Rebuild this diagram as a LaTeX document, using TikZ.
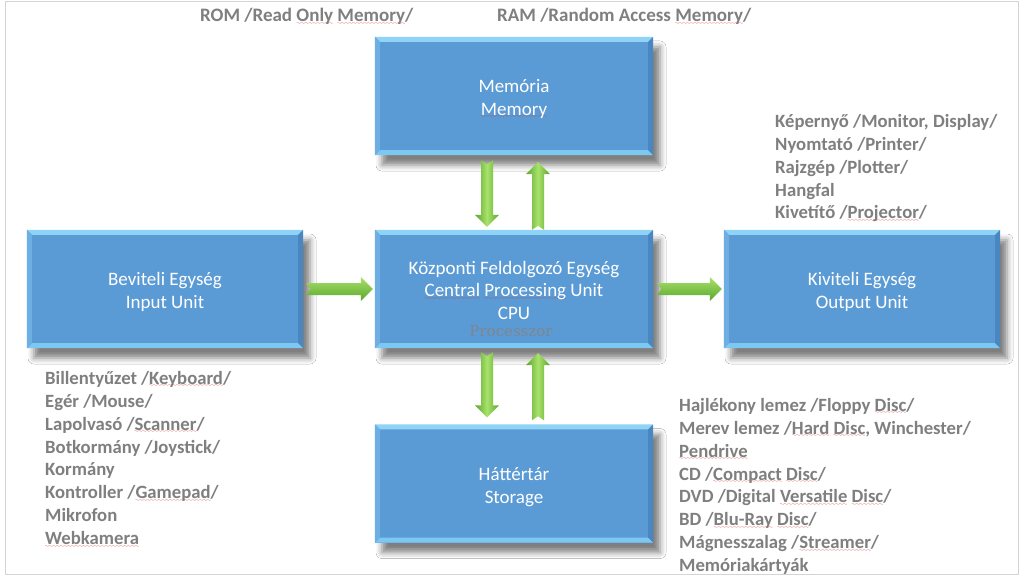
\documentclass[tikz,border=0pt]{standalone}
\usepackage{fontspec}
\setmainfont{Carlito}
\newfontfamily\procfont{DejaVu Serif}
\usetikzlibrary{shadows.blur,calc}
\definecolor{boxblue}{HTML}{5B9BD5}
\definecolor{bvtopc}{HTML}{8FD3F7}
\definecolor{bvbotc}{HTML}{7CC8F2}
\definecolor{bvleftc}{HTML}{6DAEE3}
\definecolor{bvrightc}{HTML}{4A86C0}
\definecolor{txtgray}{HTML}{7F7F7F}
\definecolor{procgray}{HTML}{7F858C}
\definecolor{sqred}{HTML}{D03030}
\definecolor{arlight}{HTML}{A8E26A}
\definecolor{ardark}{HTML}{5BA52E}
\definecolor{framegray}{HTML}{D4D4D4}
\font\sqwave=lasy6 at 4.5pt
\newcommand\sq[1]{\leavevmode\setbox0\hbox{#1}\rlap{\textcolor{sqred}{\lower2.6pt\hbox to\wd0{\xleaders\hbox{\sqwave\char58}\hfil}}}\box0\relax}
\newcommand\bevel[1]{%
  \fill[bvtopc] (#1.north west) -- (#1.north east) -- ([shift={(-5,5)}]#1.north east) -- ([shift={(5,5)}]#1.north west) -- cycle;
  \fill[bvbotc] (#1.south west) -- (#1.south east) -- ([shift={(-5,-5)}]#1.south east) -- ([shift={(5,-5)}]#1.south west) -- cycle;
  \fill[bvleftc] (#1.north west) -- ([shift={(5,5)}]#1.north west) -- ([shift={(5,-5)}]#1.south west) -- (#1.south west) -- cycle;
  \fill[bvrightc] (#1.north east) -- ([shift={(-5,5)}]#1.north east) -- ([shift={(-5,-5)}]#1.south east) -- (#1.south east) -- cycle;
}
\newcommand\fatarrow[3]{%
  \coordinate (hb) at ($(#3)!12pt!(#2)$);
  \path[#1] ($(#2)!6pt!90:(#3)$) -- ($(hb)!6pt!90:(#3)$) -- ($(hb)!12pt!90:(#3)$) -- (#3)
    -- ($(hb)!12pt!-90:(#3)$) -- ($(hb)!6pt!-90:(#3)$) -- ($(#2)!6pt!-90:(#3)$) -- ($(#2)!4pt!(#3)$) -- cycle;
}
\tikzset{
  box/.style={draw=none, fill=boxblue, minimum width=278, minimum height=118, inner sep=0pt,
    blur shadow={shadow xshift=7pt, shadow yshift=-10pt, shadow blur radius=6pt, shadow opacity=50}},
  boxtext/.style={inner sep=0pt, align=center, text=white, font=\fontsize{19}{22.5}\selectfont},
  list/.style={anchor=north west, align=left, inner sep=0pt, text=txtgray,
    font=\fontsize{18.7}{22.9}\selectfont\bfseries},
  toplabel/.style={anchor=north west, inner sep=0pt, text=txtgray, font=\fontsize{19}{23}\selectfont\bfseries},
  proc/.style={inner sep=0pt, text=procgray, font=\fontsize{15}{18}\procfont},
  harr/.style={top color=arlight, bottom color=ardark},
  varr/.style={left color=ardark, right color=ardark, middle color=arlight},
}
\begin{document}
\begin{tikzpicture}[x=1pt,y=-1pt]
\useasboundingbox (0,0) rectangle (1024,577);
\fill[white] (0,0) rectangle (1024,577);
\draw[framegray, line width=1pt] (5,2) rectangle (1018,574);

\node[box] (mem) at (514,96) {};
\node[box, minimum width=276] (in) at (165,289) {};
\node[box] (cpu) at (514,289) {};
\node[box, minimum width=276] (out) at (862,289) {};
\node[box] (sto) at (514,483.5) {};
\bevel{mem}\bevel{in}\bevel{cpu}\bevel{out}\bevel{sto}
\node[boxtext] (memt) at ([shift={(0,3)}]mem.center) {Memória\\\sq{Memory}};
\node[boxtext] (int) at ([shift={(0,3)}]in.center) {Beviteli Egység\\Input Unit};
\node[boxtext] (cput) at ([shift={(0,1)}]cpu.center) {Központi Feldolgozó Egység\\\sq{Central} \sq{Processing} Unit\\CPU};
\node[boxtext] (outt) at ([shift={(0,3)}]out.center) {Kiviteli Egység\\Output Unit};
\node[boxtext] (stot) at ([shift={(0,3.5)}]sto.center) {Háttértár\\Storage};
\node[proc] (proc) at ([shift={(-3,42)}]cpu.center) {Processzor};

\coordinate (a1s) at ([shift={(3,0)}]in.east);
\coordinate (a1e) at ([shift={(-2,0)}]cpu.west);
\coordinate (a2s) at ([shift={(4,0)}]cpu.east);
\coordinate (a2e) at ([shift={(-2,0)}]out.west);
\coordinate (a3s) at ([shift={(-27,5)}]mem.south);
\coordinate (a3e) at ([shift={(-27,-3)}]cpu.north);
\coordinate (a4s) at ([shift={(24,0)}]cpu.north);
\coordinate (a4e) at ([shift={(24,7)}]mem.south);
\coordinate (a5s) at ([shift={(-27,4)}]cpu.south);
\coordinate (a5e) at ([shift={(-27,-7)}]sto.north);
\coordinate (a6s) at ([shift={(24,-4)}]sto.north);
\coordinate (a6e) at ([shift={(24,5)}]cpu.south);
\fatarrow{harr}{a1s}{a1e}
\fatarrow{harr}{a2s}{a2e}
\fatarrow{varr}{a3s}{a3e}
\fatarrow{varr}{a4s}{a4e}
\fatarrow{varr}{a5s}{a5e}
\fatarrow{varr}{a6s}{a6e}

\node[toplabel] (rom) at (200,8) {ROM /Read \sq{Only} \sq{Memory}/};
\node[toplabel] (ram) at (497,8) {RAM /Random Access \sq{Memory}/};
\node[list] (outl) at (775,114) {Képernyő /Monitor, Display/\\Nyomtató /Printer/\\Rajzgép /Plotter/\\Hangfal\\Kivetítő /\sq{Projector}/};
\node[list] (inl) at (45,371) {Billentyűzet /\sq{Keyboard}/\\Egér /Mouse/\\Lapolvasó /\sq{Scanner}/\\Botkormány /Joystick/\\Kormány\\Kontroller /\sq{Gamepad}/\\Mikrofon\\\sq{Webkamera}};
\node[list] (stol) at (679,398) {Hajlékony lemez /Floppy \sq{Disc}/\\Merev lemez /\sq{Hard} \sq{Disc}, Winchester/\\\sq{Pendrive}\\CD /\sq{Compact} \sq{Disc}/\\DVD /Digital \sq{Versatile} \sq{Disc}/\\BD /\sq{Blu-Ray} \sq{Disc}/\\Mágnesszalag /\sq{Streamer}/\\Memóriakártyák};
\end{tikzpicture}
\end{document}
